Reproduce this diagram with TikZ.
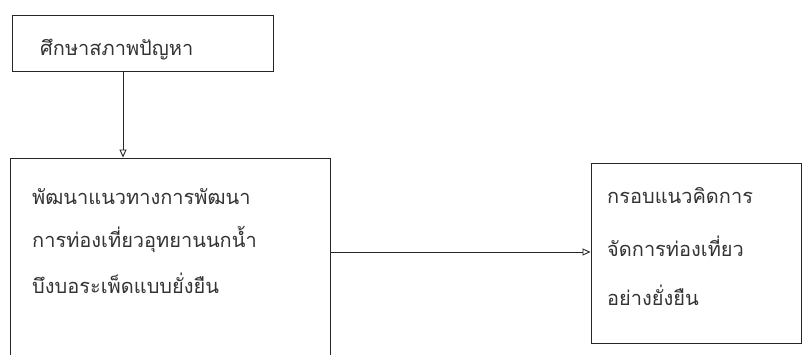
\documentclass[tikz,border=0pt]{standalone}
\usepackage{fontspec}
\newfontfamily\thai[Script=Thai]{Loma}
\usetikzlibrary{arrows.meta}
\tikzset{
  box/.style={draw=black!85, line width=0.9pt, rectangle, inner sep=0pt},
  lbl/.style={anchor=west, inner sep=0pt, text=black!80, font=\thai\fontsize{20}{24}\selectfont},
  arr/.style={draw=black!85, line width=0.9pt, -{Triangle[open,length=8pt,width=7pt]}}
}
\begin{document}
\begin{tikzpicture}[x=1pt,y=-1pt]
\useasboundingbox (0,0) rectangle (803,355);
\clip (0,0) rectangle (803,355);
\node[box, minimum width=261pt, minimum height=56pt] (box1) at (142.5,43) {};
\node[box, minimum width=320pt, minimum height=212pt] (box2) at (170,264) {};
\node[box, minimum width=210pt, minimum height=180pt] (box3) at (696,253) {};
\node[lbl] (t1) at (40,50) {ศึกษาสภาพปัญหา};
\node[lbl] (t21) at (32,197) {พัฒนาแนวทางการพัฒนา};
\node[lbl] (t22) at (32,240) {การท่องเที่ยวอุทยานนกน้ำ};
\node[lbl] (t23) at (32,283) {บึงบอระเพ็ดแบบยั่งยืน};
\node[lbl] (t31) at (607,196) {กรอบแนวคิดการ};
\node[lbl] (t32) at (607,246) {จัดการท่องเที่ยว};
\node[lbl] (t33) at (607,295) {อย่างยั่งยืน};
\coordinate (a1) at (123,71);
\draw[arr] (a1) -- (a1 |- box2.north);
\coordinate (a2) at (330,252);
\draw[arr] (a2) -- (a2 -| box3.west);
\end{tikzpicture}
\end{document}
